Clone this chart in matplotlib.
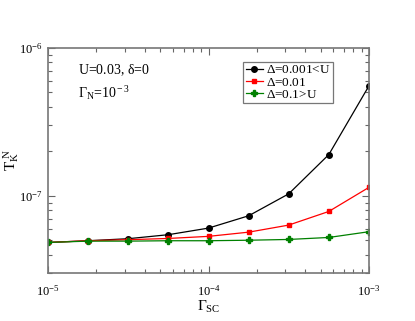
import matplotlib
matplotlib.use("Agg")
import matplotlib.pyplot as plt
from matplotlib.ticker import LogLocator, NullFormatter

plt.rcParams['font.family'] = ['Liberation Serif', 'DejaVu Serif']
plt.rcParams['mathtext.fontset'] = 'custom'
plt.rcParams['mathtext.rm'] = 'Liberation Serif'
plt.rcParams['mathtext.it'] = 'Liberation Serif'
plt.rcParams['mathtext.bf'] = 'Liberation Serif'

gamma_sc = [1e-5, 1.78e-5, 3.16e-5, 5.62e-5, 1e-4, 1.78e-4, 3.16e-4, 5.62e-4, 1e-3]
tk_black = [4.83e-8, 4.96e-8, 5.12e-8, 5.45e-8, 6.04e-8, 7.32e-8, 1.03e-7, 1.9e-7, 5.55e-7]
tk_red = [4.83e-8, 4.96e-8, 5.04e-8, 5.14e-8, 5.31e-8, 5.67e-8, 6.33e-8, 7.83e-8, 1.14e-7]
tk_green = [4.83e-8, 4.93e-8, 4.93e-8, 4.96e-8, 4.96e-8, 5.0e-8, 5.06e-8, 5.22e-8, 5.71e-8]
labels = [r'$\Delta$=0.001<U', r'$\Delta$=0.01', r'$\Delta$=0.1>U']

fig = plt.figure(figsize=(4.15, 3.21), dpi=100)
ax = fig.add_axes([48/415, 1 - 273/321, (369-48)/415, (273-48)/321])

ax.plot(gamma_sc, tk_black, color='black', marker='o', ms=4, lw=0.9, label=labels[0])
ax.plot(gamma_sc, tk_red, color='red', marker='s', ms=3.5, lw=0.9, label=labels[1])
ax.plot(gamma_sc, tk_green, color='green', marker='P', ms=4, lw=0.9, label=labels[2])

ax.set_xscale('log')
ax.set_yscale('log')
ax.set_xlim(1e-5, 1e-3)
ax.set_ylim(3.0e-8, 1e-6)

ax.xaxis.set_minor_locator(LogLocator(base=10, subs=range(2, 10)))
ax.yaxis.set_minor_locator(LogLocator(base=10, subs=range(2, 10)))
ax.xaxis.set_minor_formatter(NullFormatter())
ax.yaxis.set_minor_formatter(NullFormatter())

ax.tick_params(which='both', direction='in', top=True, right=True, colors='#666666',
               labelcolor='black', labelsize=9)
ax.tick_params(which='major', length=5, width=0.8)
ax.tick_params(which='minor', length=3, width=0.8)
ax.tick_params(axis='x', pad=8)
for s in ax.spines.values():
    s.set_color('#777777')
    s.set_linewidth(1.2)

ax.set_xlabel(r'$\Gamma_{\rm SC}$', fontsize=11, labelpad=0)
ax.set_ylabel(r'$\rm T_K^{\ N}$', fontsize=11)
ax.yaxis.set_label_coords(-0.085, 0.5)

ax.text(0.092, 0.9, r'U=0.03, $\delta$=0', transform=ax.transAxes, fontsize=10, va='center')
ax.text(0.092, 0.8, r'$\Gamma_{\rm N}$=10$^{\rm -3}$', transform=ax.transAxes, fontsize=10, va='center')

leg = ax.legend(loc='upper right', bbox_to_anchor=(0.887, 0.94), fontsize=9.5, frameon=True,
                fancybox=False, edgecolor='#555555', handlelength=1.3, handletextpad=0.2,
                borderpad=0.2, labelspacing=0.0, borderaxespad=0)
leg.get_frame().set_linewidth(0.9)

fig.savefig('out.png', dpi=100)
